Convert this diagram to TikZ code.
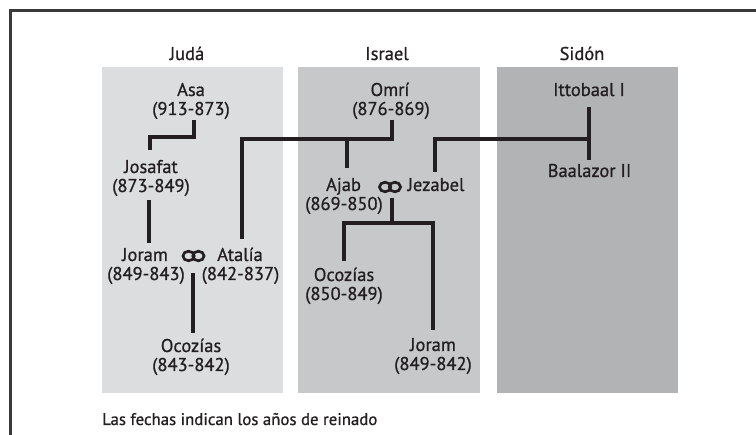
\documentclass[tikz,border=0pt]{standalone}
\usepackage{fontspec}
\setmainfont{PT Sans}
\newfontfamily\medf{PT Sans}[UprightFeatures={FakeBold=0.8}]
\usetikzlibrary{calc}
\definecolor{judabg}{HTML}{DCDDDF}
\definecolor{israelbg}{HTML}{C7C8CA}
\definecolor{sidonbg}{HTML}{B2B3B5}
\definecolor{ink}{HTML}{231F20}
\definecolor{framec}{HTML}{3A3A3A}
\tikzset{
  namet/.style={anchor=base, inner sep=0pt, text=ink, font=\medf\fontsize{18.5}{20}\selectfont},
  datet/.style={anchor=base, inner sep=0pt, text=ink, font=\medf\fontsize{18.5}{20}\selectfont},
  headt/.style={anchor=base, inner sep=0pt, text=ink, font=\medf\fontsize{18.5}{20}\selectfont},
  notet/.style={anchor=base west, inner sep=0pt, text=ink, font=\medf\fontsize{16.8}{18}\selectfont},
  conn/.style={draw=ink, line width=3.4pt},
  ring/.style={draw=ink, line width=2.7pt}
}
\begin{document}
\begin{tikzpicture}[x=1pt,y=-1pt]
\useasboundingbox (0,0) rectangle (756,435);
% frame
\draw[framec, line width=3pt] (10,435) -- (10,11) -- (756,11);
% panels
\fill[judabg] (102,67) rectangle (283,393);
\fill[israelbg] (298,67) rectangle (480,393);
\fill[sidonbg] (497,67) rectangle (678,393);
% headers
\node[headt] (hjuda) at (187,60) {Judá};
\node[headt] (hisrael) at (387,60) {Israel};
\node[headt] (hsidon) at (582,60) {Sidón};
% Juda
\node[namet] (asa) at (191,96) {Asa};
\node[datet] (asa-d) at (191,115) {(913-873)};
\node[namet] (josafat) at (151,173) {Josafat};
\node[datet] (josafat-d) at (151,192) {(873-849)};
\node[namet] (joramJ) at (145,261) {Joram};
\node[datet] (joramJ-d) at (146,280) {(849-843)};
\node[namet] (atalia) at (240,261) {Atalía};
\node[datet] (atalia-d) at (240.5,280) {(842-837)};
\node[namet] (ocoziasJ) at (191,352) {Ocozías};
\node[datet] (ocoziasJ-d) at (191,371) {(843-842)};
% Israel
\node[namet] (omri) at (390,96) {Omrí};
\node[datet] (omri-d) at (391,115) {(876-869)};
\node[namet] (ajab) at (343.5,191) {Ajab};
\node[datet] (ajab-d) at (344,210) {(869-850)};
\node[namet] (jezabel) at (436,191) {Jezabel};
\node[namet] (ocoziasI) at (344,281) {Ocozías};
\node[datet] (ocoziasI-d) at (344,300) {(850-849)};
\node[namet] (joramI) at (433,351) {Joram};
\node[datet] (joramI-d) at (433,370) {(849-842)};
% Sidon
\node[namet] (ittobaal) at (589,96) {Ittobaal I};
\node[namet] (baalazor) at (589.5,177) {Baalazor II};
% note
\node[notet] (note) at (102,425) {Las fechas indican los años de reinado};
% marriage rings
\coordinate (ring1) at (193.5,256);
\coordinate (ring2) at (390,187);
\foreach \r in {ring1,ring2}{
  \draw[ring] ($(\r)+(-4.9,0)$) ellipse [x radius=5.6pt, y radius=4.8pt];
  \draw[ring] ($(\r)+(4.9,0)$) ellipse [x radius=5.6pt, y radius=4.8pt];
}
% junction coordinates
\coordinate (e1) at (150,137);
\coordinate (e2) at (242,139);
\coordinate (e3) at (347,139);
\coordinate (e4) at (589,139);
\coordinate (e5) at (392,223);
% connectors
\draw[conn] ($(asa-d.base)+(3,5)$) |- (e1) -- ($(josafat.base)+(-1,-23)$);
\draw[conn] ($(josafat-d.base)+(-2,8)$) -- ($(joramJ.base)+(4,-18)$);
\draw[conn] ($(omri-d.base)+(1,5)$) |- (e2) -- ($(atalia.base)+(2,-22)$);
\draw[conn] (e3) -- ($(ajab.base)+(3.5,-23)$);
\draw[conn] ($(ittobaal.base)+(0,11)$) -- ($(baalazor.base)+(-0.5,-17)$);
\draw[conn] (e4) -| ($(jezabel.base)+(-1,-19)$);
\draw[conn] ($(ring2)+(2,11)$) -- (e5);
\draw[conn] ($(ocoziasI.base)+(0,-20)$) |- (e5) -| ($(joramI.base)+(0,-21)$);
\draw[conn] ($(ring1)+(-0.5,17)$) -- ($(ocoziasJ.base)+(2,-19)$);
\end{tikzpicture}
\end{document}
